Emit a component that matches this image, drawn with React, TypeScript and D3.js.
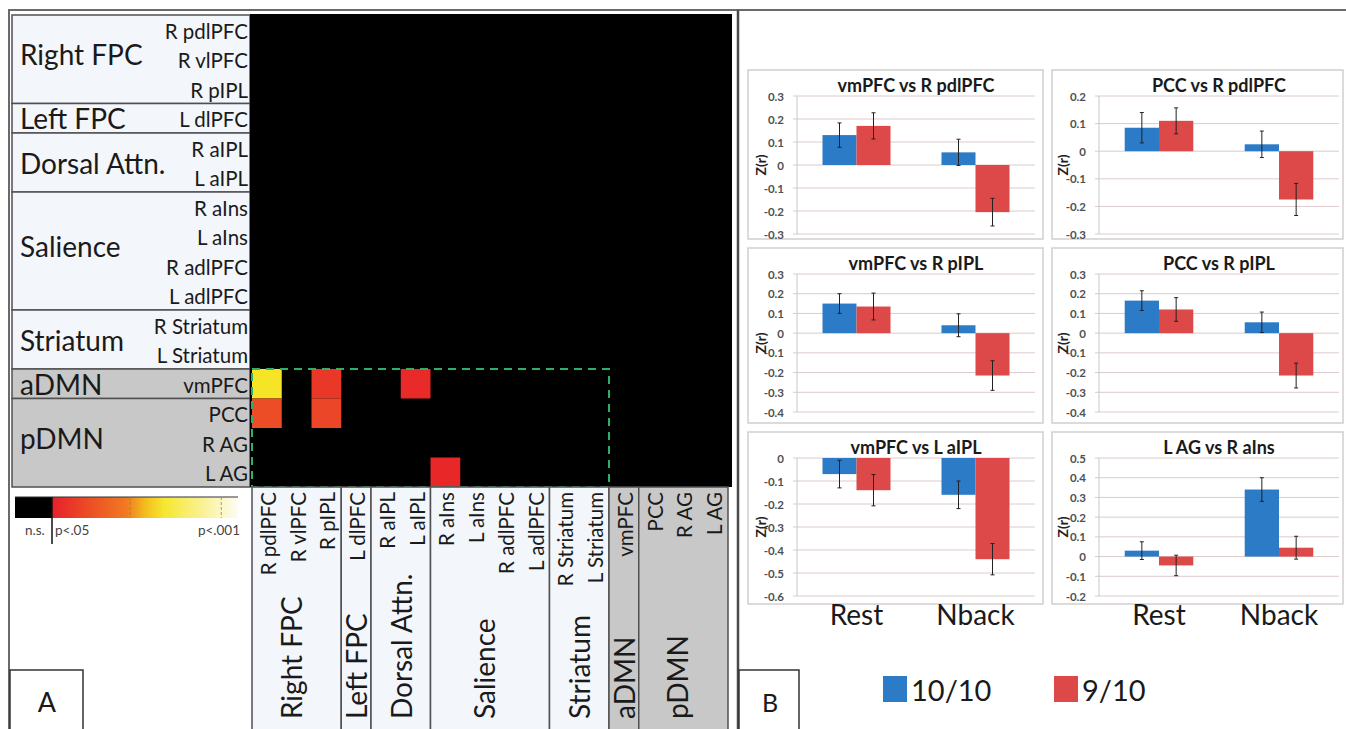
import React from 'react';
import * as d3 from 'd3';

// Regions (rows and columns of the matrix), grouped in networks
const regions = ['R pdlPFC', 'R vlPFC', 'R pIPL', 'L dlPFC', 'R aIPL', 'L aIPL', 'R aIns', 'L aIns', 'R adlPFC', 'L adlPFC', 'R Striatum', 'L Striatum', 'vmPFC', 'PCC', 'R AG', 'L AG'];
const networkNames = ['Right FPC', 'Left FPC', 'Dorsal Attn.', 'Salience', 'Striatum', 'aDMN', 'pDMN'];
const networkSizes = [3, 1, 2, 4, 2, 1, 3];
const dmnNetworks = ['aDMN', 'pDMN'];

// Significant cells: row region, column region, position on the colour bar (0 = p<.05, 1 = p<.001)
const sigRows = ['vmPFC', 'PCC', 'vmPFC', 'PCC', 'vmPFC', 'L AG'];
const sigCols = ['R pdlPFC', 'R pdlPFC', 'R pIPL', 'R pIPL', 'L aIPL', 'R aIns'];
const sigLevels = [0.58, 0.2, 0.1, 0.17, 0.05, 0.03];

// Bar charts (panel B)
const panelTitles = ['vmPFC vs R pdlPFC', 'PCC vs R pdlPFC', 'vmPFC vs R pIPL', 'PCC vs R pIPL', 'vmPFC vs L aIPL', 'L AG vs R aIns'];
const conditions = ['Rest', 'Nback'];
const groups = ['10/10', '9/10'];
const rest10 = [0.13, 0.085, 0.15, 0.165, -0.07, 0.03];
const rest9 = [0.17, 0.11, 0.135, 0.12, -0.14, -0.045];
const nback10 = [0.055, 0.025, 0.04, 0.055, -0.16, 0.34];
const nback9 = [-0.205, -0.175, -0.215, -0.215, -0.44, 0.045];
const rest10Err = [0.053, 0.055, 0.05, 0.05, 0.06, 0.045];
const rest9Err = [0.057, 0.047, 0.068, 0.06, 0.068, 0.052];
const nback10Err = [0.057, 0.048, 0.058, 0.052, 0.06, 0.06];
const nback9Err = [0.06, 0.058, 0.075, 0.063, 0.068, 0.058];
const yDomains = [[-0.3, 0.3], [-0.3, 0.2], [-0.4, 0.3], [-0.4, 0.3], [-0.6, 0], [-0.2, 0.5]];

const font = 'Lato, "Open Sans", sans-serif';
const groupColor = { '10/10': '#2b7bc6', '9/10': '#dd4848' };
const lightFill = '#f3f6fb';
const greyFill = '#c8c8c8';
const lineColor = '#505050';

const pColor = d3.scaleLinear<string>()
  .domain([0, 0.4, 0.56, 1])
  .range(['#e7202a', '#f07a22', '#f5e41c', '#fdfcf2']);

// network start index for each network
const networkStart = networkSizes.map((_, i) => d3.sum(networkSizes.slice(0, i)));

const Matrix = () => {
  const x = d3.scaleBand().domain(regions).range([252, 728]);
  const y = d3.scaleBand().domain(regions).range([15, 487]);
  const bw = x.bandwidth();
  const bh = y.bandwidth();
  const firstDmn = regions.indexOf('vmPFC');

  return (
    <g>
      {/* row labels */}
      {networkNames.map((n, i) => {
        const y0 = y(regions[networkStart[i]])!;
        const y1 = y(regions[networkStart[i] + networkSizes[i] - 1])! + bh;
        return (
          <g key={n}>
            <rect x={12} y={y0} width={238} height={y1 - y0}
              fill={dmnNetworks.includes(n) ? greyFill : lightFill} stroke={lineColor} strokeWidth={1.5} />
            <text x={20} y={(y0 + y1) / 2 - (networkSizes[i] > 2 ? 5 : 0)} dominantBaseline="central"
              fontSize={28} fill="#1a1a1a">{n}</text>
          </g>
        );
      })}
      {regions.map(r => (
        <text key={r} x={248} y={y(r)! + bh / 2 + 1} dominantBaseline="central" textAnchor="end"
          fontSize={20.5} fill="#1a1a1a">{r}</text>
      ))}

      {/* matrix */}
      <rect x={250} y={14} width={482} height={473} fill="#000" />
      {sigRows.map((r, i) => (
        <rect key={i} x={x(sigCols[i])} y={y(r)} width={bw} height={bh} fill={pColor(sigLevels[i])} />
      ))}
      <rect x={x(regions[0])} y={y(regions[firstDmn])} width={x(regions[firstDmn])! - x(regions[0])!}
        height={487 - y(regions[firstDmn])!} fill="none" stroke="#2fae66" strokeWidth={2} strokeDasharray="8 6" />

      {/* column labels */}
      {networkNames.map((n, i) => {
        const x0 = x(regions[networkStart[i]])!;
        const x1 = x(regions[networkStart[i] + networkSizes[i] - 1])! + bw;
        const cx = (x0 + x1) / 2 - (networkSizes[i] > 2 ? 6 : 0);
        return (
          <g key={n}>
            <rect x={x0} y={487} width={x1 - x0} height={245}
              fill={dmnNetworks.includes(n) ? greyFill : lightFill} stroke={lineColor} strokeWidth={1.5} />
            <text transform={`translate(${cx},719) rotate(-90)`} dominantBaseline="central"
              fontSize={28} fill="#1a1a1a">{n}</text>
          </g>
        );
      })}
      {regions.map(r => (
        <text key={r} transform={`translate(${x(r)! + bw / 2 + 1},492) rotate(-90)`} dominantBaseline="central"
          textAnchor="end" fontSize={20.5} fill="#1a1a1a">{r}</text>
      ))}
    </g>
  );
};

const ColorBar = () => {
  const cx = d3.scaleLinear().domain([0, 1]).range([52, 238]);
  const stops = d3.range(0, 1.001, 0.1);
  return (
    <g>
      <defs>
        <linearGradient id="pgrad" x1="0" x2="1" y1="0" y2="0">
          {stops.map(s => <stop key={s} offset={s} stopColor={pColor(s)} />)}
        </linearGradient>
      </defs>
      <rect x={15} y={497} width={cx(0) - 15} height={21} fill="#000" />
      <rect x={cx(0)} y={497} width={cx(1) - cx(0)} height={21} fill="url(#pgrad)" />
      <line x1={15} x2={cx(1)} y1={497} y2={497} stroke="#333" strokeWidth={1} />
      {[0.42, 0.91].map(t => (
        <line key={t} x1={cx(t)} x2={cx(t)} y1={497} y2={518} stroke="#b07a30" strokeWidth={0.8} strokeDasharray="3 2" />
      ))}
      <line x1={cx(0)} x2={cx(0)} y1={497} y2={544} stroke="#111" strokeWidth={1.5} />
      <text x={25} y={530} dominantBaseline="central" fontSize={13.5} fill="#444">n.s.</text>
      <text x={cx(0) + 3} y={530} dominantBaseline="central" fontSize={13.5} fill="#444">p&lt;.05</text>
      <text x={240} y={530} dominantBaseline="central" textAnchor="end" fontSize={13.5} fill="#444">p&lt;.001</text>
    </g>
  );
};

// panel B geometry
const boxX = [748, 1052];
const boxW = [295, 291];
const boxY = [70, 248, 432];
const boxH = [169, 175, 172];
const plotLeft = [797, 1099];
const plotRight = [1035, 1339];
const plotH = 138;

const BarPanel = ({ i }: { i: number }) => {
  const col = i % 2;
  const row = Math.floor(i / 2);
  const top = boxY[row] + 26;
  const y = d3.scaleLinear().domain(yDomains[i]).range([top + plotH, top]);
  const x = d3.scaleBand().domain(conditions).range([plotLeft[col], plotRight[col]]);
  const inner = d3.scaleBand().domain(groups).range([0, x.bandwidth()]).paddingOuter(0.75);
  const [lo, hi] = yDomains[i];
  const ticks = d3.range(Math.round(lo * 10), Math.round(hi * 10) + 1).map(v => v / 10);
  const vals = {
    Rest: { '10/10': [rest10[i], rest10Err[i]], '9/10': [rest9[i], rest9Err[i]] },
    Nback: { '10/10': [nback10[i], nback10Err[i]], '9/10': [nback9[i], nback9Err[i]] },
  };
  const cx = (plotLeft[col] + plotRight[col]) / 2;
  return (
    <g>
      <rect x={boxX[col]} y={boxY[row]} width={boxW[col]} height={boxH[row]} fill="#fff" stroke="#cfcfcf" strokeWidth={1.5} />
      {ticks.map(t => (
        <g key={t}>
          <line x1={plotLeft[col] - 4} x2={plotRight[col]} y1={y(t)} y2={y(t)} stroke="#dccaca" strokeWidth={1} />
          <text x={plotLeft[col] - 13} y={y(t)} dominantBaseline="central" textAnchor="end"
            fontSize={11.5} fontWeight="bold" fill="#505050">{t === 0 ? '0' : t.toFixed(1)}</text>
        </g>
      ))}
      <line x1={plotLeft[col]} x2={plotLeft[col]} y1={top} y2={top + plotH} stroke="#c8c8c8" />
      <text transform={`translate(${plotLeft[col] - 37},${top + plotH / 2}) rotate(-90)`} textAnchor="middle"
        dominantBaseline="central" fontSize={14} fontWeight="bold" fill="#222">Z(r)</text>
      {conditions.map(c => groups.map(g => {
        const [v, e] = vals[c][g];
        const bx = x(c)! + inner(g)!;
        const mx = bx + inner.bandwidth() / 2;
        return (
          <g key={c + g}>
            <rect x={bx} y={Math.min(y(v), y(0))} width={inner.bandwidth()} height={Math.abs(y(v) - y(0))} fill={groupColor[g]} />
            <line x1={mx} x2={mx} y1={y(v + e)} y2={y(v - e)} stroke="#222" strokeWidth={1} />
            <line x1={mx - 2} x2={mx + 2} y1={y(v + e)} y2={y(v + e)} stroke="#222" strokeWidth={1} />
            <line x1={mx - 2} x2={mx + 2} y1={y(v - e)} y2={y(v - e)} stroke="#222" strokeWidth={1} />
          </g>
        );
      }))}
      <text x={cx} y={boxY[row] + 22} textAnchor="middle" fontSize={18} fontWeight="bold" fill="#1a1a1a">{panelTitles[i]}</text>
      {row === 2 && conditions.map(c => (
        <text key={c} x={x(c)! + x.bandwidth() / 2} y={625} textAnchor="middle" fontSize={28} fill="#1a1a1a">{c}</text>
      ))}
    </g>
  );
};

const Legend = () => {
  const lx = d3.scaleOrdinal<string, number>().domain(groups).range([883, 1054]);
  return (
    <g>
      {groups.map(g => (
        <g key={g}>
          <rect x={lx(g)} y={676} width={24} height={26} fill={groupColor[g]} />
          <text x={lx(g) + 28} y={701} fontSize={29} fill="#1a1a1a">{g}</text>
        </g>
      ))}
    </g>
  );
};

export default function App() {
  return (
    <svg width={1346} height={729} style={{ position: 'absolute', left: 0, top: 0, background: '#fff' }}
      fontFamily={font}>
      <rect width={1346} height={729} fill="#fff" />
      <Matrix />
      <ColorBar />
      {panelTitles.map((_, i) => <BarPanel key={i} i={i} />)}
      <Legend />

      {/* frames */}
      <line x1={8} x2={1346} y1={10} y2={10} stroke="#6a6a6a" strokeWidth={2} />
      <line x1={9} x2={9} y1={10} y2={729} stroke="#6a6a6a" strokeWidth={2} />
      <line x1={738} x2={738} y1={10} y2={729} stroke="#4a4a4a" strokeWidth={2.5} />
      <rect x={10} y={670} width={73} height={62} fill="#fff" stroke="#333" strokeWidth={1.5} />
      <text x={47} y={712} textAnchor="middle" fontSize={27} fill="#1a1a1a">A</text>
      <rect x={739} y={670} width={60} height={62} fill="#fff" stroke="#333" strokeWidth={1.5} />
      <text x={770} y={712} textAnchor="middle" fontSize={25} fill="#1a1a1a">B</text>
    </svg>
  );
}
